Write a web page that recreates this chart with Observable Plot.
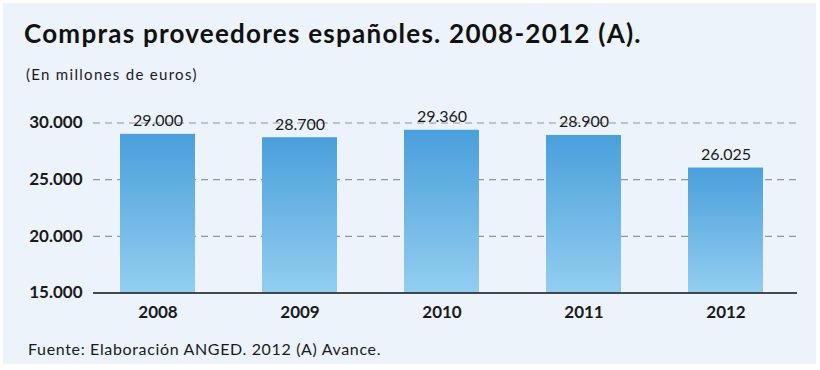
<!DOCTYPE html>
<html><head><meta charset="utf-8">
<script src="https://cdn.jsdelivr.net/npm/d3@7"></script>
<script src="https://cdn.jsdelivr.net/npm/@observablehq/plot@0.6"></script>
<style>
html,body{margin:0;padding:0;background:#fff;}
#wrap{position:relative;width:820px;height:370px;font-family:Lato,"Open Sans",sans-serif;color:#1a1a1a;}
#panel{position:absolute;left:3px;top:3px;width:813px;height:361px;background:#ecf3fa;}
.t{position:absolute;line-height:1;white-space:nowrap;}
#title{left:24px;top:19.5px;font-size:26px;font-weight:700;letter-spacing:1.25px;color:#111;}
#sub{left:26px;top:67px;font-size:15px;letter-spacing:1.3px;}
#cap{left:28px;top:341px;font-size:16px;letter-spacing:0.65px;}
#chart{position:absolute;left:0;top:0;}
</style></head>
<body>
<div id="wrap">
<div id="panel"></div>
<div id="chart"></div>
<div class="t" id="title">Compras proveedores españoles. 2008-2012 (A).</div>
<div class="t" id="sub">(En millones de euros)</div>
<div class="t" id="cap">Fuente: Elaboración ANGED. 2012 (A) Avance.</div>
</div>
<script>
const years = ["2008","2009","2010","2011","2012"];
const values = [29000, 28700, 29360, 28900, 26025];
const yTicks = [15000, 20000, 25000, 30000];

const data = years.map((year, i) => ({year, value: values[i]}));
const es = d3.formatLocale({decimal: ",", thousands: ".", grouping: [3], currency: ["", "€"]});
const fmt = es.format(",d");

const defs = () => {
  const d = d3.create("svg:defs");
  const g = d.append("linearGradient").attr("id", "barGrad").attr("x1", 0).attr("y1", 0).attr("x2", 0).attr("y2", 1);
  g.append("stop").attr("offset", "0%").attr("stop-color", "#4a9fdb");
  g.append("stop").attr("offset", "100%").attr("stop-color", "#93cef0");
  return d.node();
};

const chart = Plot.plot({
  width: 820,
  height: 370,
  marginLeft: 93,
  marginRight: 23,
  marginTop: 122.5,
  marginBottom: 77.5,
  style: {background: "transparent", fontFamily: "Lato, sans-serif", color: "#1a1a1a", overflow: "visible"},
  x: {domain: years, range: [93.3, 790], paddingInner: 0.474, paddingOuter: 0.18},
  y: {domain: [15000, 30000]},
  marks: [
    defs,
    Plot.ruleY(yTicks.filter(d => d > 15000), {stroke: "#8f959b", strokeWidth: 1.2, strokeDasharray: "7,5"}),
    Plot.barY(data, {x: "year", y1: 15000, y2: "value", fill: "url(#barGrad)"}),
    Plot.ruleY([15000], {stroke: "#111", strokeWidth: 1.5}),
    Plot.text(data, {x: "year", y: "value", text: d => fmt(d.value), lineAnchor: "bottom", dy: -8, fontSize: 16, fill: "#1a1a1a"}),
    Plot.axisY({ticks: yTicks, tickFormat: fmt, tickSize: 0, tickPadding: 11, fontSize: 17, fontWeight: 700, label: null, style: {letterSpacing: "0.4px"}}),
    Plot.axisX({tickSize: 0, tickPadding: 13, fontSize: 17, fontWeight: 700, label: null})
  ]
});
document.getElementById("chart").appendChild(chart);
</script>
</body></html>
